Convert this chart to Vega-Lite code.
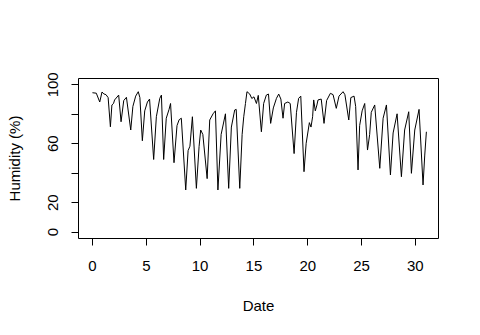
{
  "$schema": "https://vega.github.io/schema/vega-lite/v6.json",
  "width": 360,
  "height": 160,
  "autosize": "none",
  "padding": {"left": 78, "top": 78, "right": 42, "bottom": 97},
  "background": "white",
  "config": {
    "view": {"stroke": "black", "strokeWidth": 1},
    "font": "Liberation Sans",
    "axis": {
      "grid": false,
      "domain": false,
      "tickColor": "black",
      "tickSize": 7,
      "tickWidth": 1,
      "labelColor": "black",
      "labelFont": "Liberation Sans",
      "labelFontSize": 15,
      "titleColor": "black",
      "titleFont": "Liberation Sans",
      "titleFontSize": 15,
      "titleFontWeight": "normal"
    }
  },
  "data": {
    "values": [
      {"d": 0.04, "h": 94.3}, {"d": 0.4, "h": 94}, {"d": 0.72, "h": 88}, {"d": 0.93, "h": 94.8},
      {"d": 1.1, "h": 93.5}, {"d": 1.3, "h": 93}, {"d": 1.5, "h": 91}, {"d": 1.71, "h": 71.2},
      {"d": 1.85, "h": 86}, {"d": 2.0, "h": 87}, {"d": 2.1, "h": 89.4}, {"d": 2.48, "h": 92.7},
      {"d": 2.7, "h": 74.6}, {"d": 2.95, "h": 89}, {"d": 3.2, "h": 91.2}, {"d": 3.6, "h": 69},
      {"d": 3.8, "h": 85}, {"d": 4.06, "h": 92}, {"d": 4.3, "h": 95}, {"d": 4.45, "h": 91},
      {"d": 4.68, "h": 61.7}, {"d": 4.9, "h": 82}, {"d": 5.15, "h": 88}, {"d": 5.35, "h": 90},
      {"d": 5.73, "h": 49}, {"d": 5.98, "h": 78}, {"d": 6.3, "h": 90.5}, {"d": 6.45, "h": 92.7},
      {"d": 6.66, "h": 49}, {"d": 6.9, "h": 77}, {"d": 7.16, "h": 83}, {"d": 7.3, "h": 87},
      {"d": 7.62, "h": 46.8}, {"d": 7.9, "h": 72}, {"d": 8.1, "h": 76}, {"d": 8.3, "h": 77},
      {"d": 8.71, "h": 28.3}, {"d": 8.93, "h": 55}, {"d": 9.1, "h": 58}, {"d": 9.33, "h": 78},
      {"d": 9.7, "h": 29.4}, {"d": 9.95, "h": 57.7}, {"d": 10.1, "h": 69}, {"d": 10.3, "h": 66},
      {"d": 10.7, "h": 36}, {"d": 10.94, "h": 75.8}, {"d": 11.25, "h": 80}, {"d": 11.47, "h": 82},
      {"d": 11.7, "h": 28.3}, {"d": 12.0, "h": 66}, {"d": 12.4, "h": 80}, {"d": 12.7, "h": 29.4},
      {"d": 12.95, "h": 71}, {"d": 13.26, "h": 82.6}, {"d": 13.4, "h": 83}, {"d": 13.73, "h": 29.4},
      {"d": 13.95, "h": 66}, {"d": 14.1, "h": 78}, {"d": 14.26, "h": 87}, {"d": 14.4, "h": 95},
      {"d": 14.65, "h": 93.5}, {"d": 14.85, "h": 90.4}, {"d": 15.05, "h": 91.5}, {"d": 15.28, "h": 87},
      {"d": 15.45, "h": 92.5}, {"d": 15.74, "h": 67.8}, {"d": 15.95, "h": 87}, {"d": 16.2, "h": 92.7},
      {"d": 16.4, "h": 93.4}, {"d": 16.6, "h": 73.5}, {"d": 16.85, "h": 84}, {"d": 17.14, "h": 90.5},
      {"d": 17.35, "h": 93.4}, {"d": 17.55, "h": 90}, {"d": 17.75, "h": 77}, {"d": 17.9, "h": 87},
      {"d": 18.2, "h": 88}, {"d": 18.42, "h": 87}, {"d": 18.78, "h": 53}, {"d": 19.0, "h": 81},
      {"d": 19.2, "h": 90.5}, {"d": 19.4, "h": 92}, {"d": 19.7, "h": 40.7}, {"d": 19.9, "h": 60},
      {"d": 20.2, "h": 74}, {"d": 20.35, "h": 71}, {"d": 20.5, "h": 78}, {"d": 20.6, "h": 89.4},
      {"d": 20.75, "h": 82}, {"d": 20.9, "h": 86}, {"d": 21.0, "h": 89.4}, {"d": 21.3, "h": 90},
      {"d": 21.56, "h": 73.5}, {"d": 21.8, "h": 89}, {"d": 22.15, "h": 93.9}, {"d": 22.4, "h": 93},
      {"d": 22.7, "h": 83.7}, {"d": 22.95, "h": 92}, {"d": 23.33, "h": 95}, {"d": 23.5, "h": 93},
      {"d": 23.86, "h": 75.8}, {"d": 24.05, "h": 91}, {"d": 24.35, "h": 92}, {"d": 24.5, "h": 85},
      {"d": 24.72, "h": 41.9}, {"d": 24.87, "h": 72}, {"d": 25.1, "h": 82}, {"d": 25.34, "h": 87},
      {"d": 25.6, "h": 55.4}, {"d": 25.8, "h": 66}, {"d": 25.95, "h": 81}, {"d": 26.27, "h": 86},
      {"d": 26.74, "h": 43}, {"d": 27.05, "h": 77}, {"d": 27.36, "h": 86}, {"d": 27.73, "h": 38.5},
      {"d": 27.98, "h": 67}, {"d": 28.35, "h": 80}, {"d": 28.75, "h": 37.3}, {"d": 29.05, "h": 69},
      {"d": 29.43, "h": 81.4}, {"d": 29.68, "h": 39.6}, {"d": 29.99, "h": 69}, {"d": 30.39, "h": 83},
      {"d": 30.76, "h": 31.7}, {"d": 30.92, "h": 52}, {"d": 31.07, "h": 67.8}
    ]
  },
  "mark": {"type": "line", "color": "black", "strokeWidth": 1, "interpolate": "linear"},
  "encoding": {
    "x": {
      "field": "d",
      "type": "quantitative",
      "scale": {"domain": [-1.3, 32.15], "nice": false, "zero": false},
      "axis": {
        "title": "Date",
        "values": [0, 5, 10, 15, 20, 25, 30],
        "labelPadding": 13,
        "labelAngle": 0,
        "labelAlign": "center",
        "labelBaseline": "top",
        "titleY": 72,
        "titleBaseline": "alphabetic",
        "titleAnchor": "middle"
      }
    },
    "y": {
      "field": "h",
      "type": "quantitative",
      "scale": {"domain": [-4.3, 104.3], "nice": false, "zero": false},
      "axis": {
        "title": "Humidity (%)",
        "values": [0, 20, 40, 60, 80, 100],
        "labelExpr": "datum.value == 40 || datum.value == 80 ? '' : datum.label",
        "labelAngle": 270,
        "labelAlign": "center",
        "labelBaseline": "alphabetic",
        "labelPadding": 14,
        "titleAngle": 270,
        "titleX": -59,
        "titleY": 80,
        "titleAlign": "center",
        "titleBaseline": "alphabetic"
      }
    }
  }
}
